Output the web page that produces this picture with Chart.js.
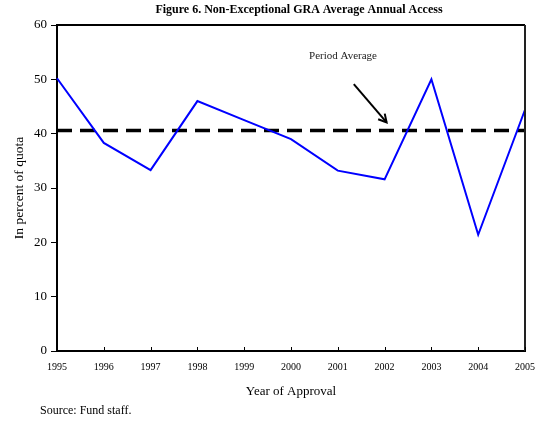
<!DOCTYPE html>
<html>
<head>
<meta charset="utf-8">
<script src="https://cdn.jsdelivr.net/npm/chart.js@4/dist/chart.umd.min.js"></script>
<style>
  html, body { margin: 0; padding: 0; background: #fff; }
  #wrap { width: 539px; height: 423px; position: relative; }
</style>
</head>
<body>
<div id="wrap"><canvas id="c" width="539" height="423"></canvas></div>
<script>
const years = ['1995','1996','1997','1998','1999','2000','2001','2002','2003','2004','2005'];
const accessValues = [50.2, 38.3, 33.3, 46.0, 42.5, 39.0, 33.2, 31.6, 50.0, 21.4, 44.4];
const periodAverage = 40.6;
const yTicks = [0, 10, 20, 30, 40, 50, 60];
const titleText = 'Figure 6. Non-Exceptional GRA Average Annual Access';
const annotationText = 'Period Average';
const sourceText = 'Source: Fund staff.';
const yAxisTitle = 'In percent of quota';
const xAxisTitle = 'Year of Approval';

const serif = '"Liberation Serif", "Times New Roman", serif';

const extras = {
  id: 'extras',
  afterDraw(chart) {
    const {ctx, chartArea: a, scales: {x, y}} = chart;
    ctx.save();
    // frame top/right
    ctx.strokeStyle = '#000';
    ctx.lineWidth = 2;
    ctx.beginPath();
    ctx.moveTo(a.left, a.top);
    ctx.lineTo(a.right, a.top);
    ctx.stroke();
    ctx.strokeStyle = '#222';
    ctx.beginPath();
    ctx.moveTo(a.right, a.top);
    ctx.lineTo(a.right, a.bottom);
    ctx.stroke();
    // inner x ticks
    ctx.strokeStyle = '#000';
    ctx.lineWidth = 1;
    for (let i = 0; i < years.length; i++) {
      const px = Math.round(x.getPixelForValue(i)) + 0.5;
      ctx.beginPath();
      ctx.moveTo(px, a.bottom);
      ctx.lineTo(px, a.bottom - 4);
      ctx.stroke();
    }
    // title
    ctx.fillStyle = '#000';
    ctx.font = 'bold 12px ' + serif;
    ctx.textAlign = 'center';
    ctx.textBaseline = 'middle';
    ctx.fillText(titleText, 299, 10);
    // annotation
    ctx.font = '11px ' + serif;
    ctx.fillStyle = '#222';
    ctx.fillText(annotationText, 343, 56);
    // arrow
    const tipX = x.getPixelForValue(7) + 2;
    const tipY = y.getPixelForValue(periodAverage) - 8;
    const startX = x.getPixelForValue(6) + 16;
    const startY = y.getPixelForValue(49.1);
    ctx.strokeStyle = '#000';
    ctx.lineWidth = 2;
    ctx.beginPath();
    ctx.moveTo(startX, startY);
    ctx.lineTo(tipX, tipY);
    ctx.stroke();
    const ang = Math.atan2(tipY - startY, tipX - startX);
    const hl = 9;
    ctx.beginPath();
    ctx.moveTo(tipX - hl * Math.cos(ang - 0.5), tipY - hl * Math.sin(ang - 0.5));
    ctx.lineTo(tipX, tipY);
    ctx.lineTo(tipX - hl * Math.cos(ang + 0.5), tipY - hl * Math.sin(ang + 0.5));
    ctx.stroke();
    // source
    ctx.fillStyle = '#000';
    ctx.font = '12px ' + serif;
    ctx.textAlign = 'left';
    ctx.fillText(sourceText, 40, 411);
    ctx.restore();
  }
};

new Chart(document.getElementById('c'), {
  type: 'line',
  data: {
    labels: years,
    datasets: [
      {
        label: 'Average annual access',
        data: accessValues,
        borderColor: '#0000ff',
        borderWidth: 2,
        pointRadius: 0,
        tension: 0,
        fill: false,
        order: 1
      },
      {
        label: 'Period Average',
        data: years.map(() => periodAverage),
        borderColor: '#000',
        borderWidth: 3.5,
        borderDash: [15, 8],
        pointRadius: 0,
        fill: false,
        order: 2
      }
    ]
  },
  options: {
    responsive: false,
    animation: false,
    devicePixelRatio: 1,
    layout: { padding: { top: 25, right: 14, left: 0, bottom: 0 } },
    plugins: {
      legend: { display: false },
      tooltip: { enabled: false },
      title: { display: false }
    },
    scales: {
      x: {
        type: 'category',
        offset: false,
        grid: { display: false, drawTicks: false },
        border: { display: true, color: '#000', width: 2 },
        ticks: {
          color: '#000',
          padding: 10,
          maxRotation: 0,
          autoSkip: false,
          font: { family: serif, size: 10 }
        },
        title: {
          display: true,
          text: xAxisTitle,
          color: '#000',
          font: { family: serif, size: 13 },
          padding: { top: 0, bottom: 24 }
        },
        afterFit(s) { s.height = 72; s.paddingRight = 0; s.paddingLeft = 0; }
      },
      y: {
        min: 0,
        max: 60,
        afterBuildTicks(s) { s.ticks = yTicks.map(v => ({ value: v })); },
        grid: {
          display: true,
          drawOnChartArea: false,
          drawTicks: true,
          tickLength: 6,
          tickColor: '#000',
          tickWidth: 1
        },
        border: { display: true, color: '#000', width: 2 },
        ticks: {
          color: '#000',
          padding: 4,
          font: { family: serif, size: 13 }
        },
        title: {
          display: true,
          text: yAxisTitle,
          color: '#000',
          font: { family: serif, size: 13.5 },
          padding: { top: 11, bottom: 0 }
        },
        afterFit(s) { s.width = 57; }
      }
    }
  },
  plugins: [extras]
});
</script>
</body>
</html>
